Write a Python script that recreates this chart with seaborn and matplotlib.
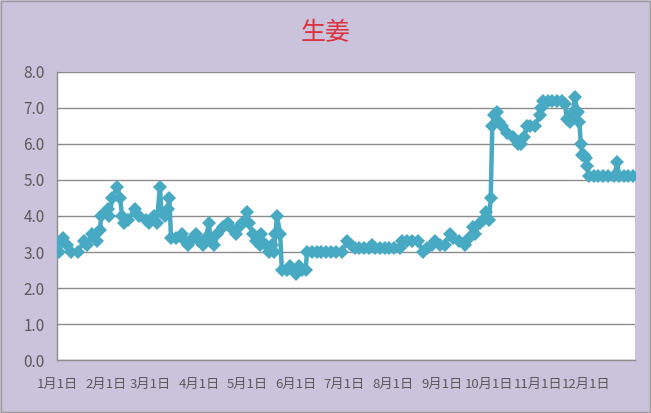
import pandas as pd
import matplotlib
matplotlib.use("Agg")
import matplotlib.pyplot as plt
import seaborn as sns

# price series (year is arbitrary, non-leap)
dates = [
    "01-01", "01-02", "01-05", "01-07", "01-10", "01-14", "01-18", "01-20", "01-23", "01-26",
    "01-28", "01-29", "02-02", "02-03", "02-05", "02-08", "02-10", "02-11", "02-12", "02-15",
    "02-19", "02-22", "02-26", "02-28", "03-03", "03-05", "03-07", "03-08", "03-10", "03-12",
    "03-13", "03-14", "03-17", "03-21", "03-23", "03-25", "03-28", "03-30", "04-01", "04-03",
    "04-05", "04-07", "04-08", "04-10", "04-12", "04-16", "04-19", "04-22", "04-24", "04-26",
    "04-28", "05-01", "05-02", "05-05", "05-07", "05-09", "05-10", "05-13", "05-15", "05-17",
    "05-18", "05-19", "05-20", "05-22", "05-23", "05-26", "05-28", "06-01", "06-03", "06-05",
    "06-07", "06-08", "06-11", "06-14", "06-17", "06-20", "06-23", "06-26", "06-30", "07-03",
    "07-06", "07-08", "07-11", "07-14", "07-17", "07-19", "07-21", "07-24", "07-27", "07-30",
    "08-02", "08-06", "08-07", "08-10", "08-13", "08-17", "08-20", "08-23", "08-26", "08-28",
    "08-31", "09-03", "09-06", "09-08", "09-12", "09-16", "09-18", "09-21", "09-22", "09-25",
    "09-27", "09-29", "10-01", "10-02", "10-03", "10-04", "10-06", "10-07", "10-09", "10-12",
    "10-16", "10-19", "10-21", "10-23", "10-25", "10-27", "10-30", "11-02", "11-03", "11-04",
    "11-07", "11-10", "11-13", "11-16", "11-18", "11-19", "11-21", "11-22", "11-23", "11-24",
    "11-26", "11-27", "11-28", "11-29", "11-30", "12-01", "12-02", "12-03", "12-06", "12-09",
    "12-12", "12-15", "12-19", "12-21", "12-22", "12-25", "12-28", "12-31",
]
prices = [
    3.2, 3.0, 3.4, 3.2, 3.0, 3.0, 3.3, 3.2, 3.5, 3.3,
    3.6, 4.0, 4.2, 4.0, 4.5, 4.8, 4.5, 4.0, 3.8, 3.9,
    4.2, 4.0, 3.9, 3.8, 4.0, 3.8, 4.8, 4.1, 4.0, 4.2,
    4.5, 3.4, 3.4, 3.5, 3.3, 3.2, 3.4, 3.5, 3.3, 3.2,
    3.4, 3.8, 3.3, 3.2, 3.5, 3.7, 3.8, 3.6, 3.5, 3.7,
    3.8, 4.1, 3.8, 3.5, 3.3, 3.2, 3.5, 3.2, 3.0, 3.2,
    3.0, 3.5, 4.0, 3.5, 2.5, 2.5, 2.6, 2.4, 2.6, 2.5,
    2.5, 3.0, 3.0, 3.0, 3.0, 3.0, 3.0, 3.0, 3.0, 3.3,
    3.2, 3.1, 3.1, 3.1, 3.1, 3.2, 3.1, 3.1, 3.1, 3.1,
    3.1, 3.1, 3.3, 3.3, 3.3, 3.3, 3.0, 3.1, 3.2, 3.3,
    3.2, 3.2, 3.5, 3.4, 3.3, 3.2, 3.4, 3.7, 3.5, 3.8,
    3.9, 4.1, 3.9, 4.5, 6.5, 6.8, 6.9, 6.6, 6.5, 6.3,
    6.2, 6.0, 6.0, 6.2, 6.5, 6.5, 6.5, 6.8, 7.0, 7.2,
    7.2, 7.2, 7.2, 7.2, 7.1, 6.7, 6.6, 6.7, 6.9, 7.3,
    6.9, 6.6, 6.0, 5.7, 5.7, 5.6, 5.4, 5.1, 5.1, 5.1,
    5.1, 5.1, 5.1, 5.5, 5.1, 5.1, 5.1, 5.1,
]
month_labels = ["1月1日", "2月1日", "3月1日", "4月1日", "5月1日", "6月1日",
                "7月1日", "8月1日", "9月1日", "10月1日", "11月1日", "12月1日"]
y_ticks = [0, 1, 2, 3, 4, 5, 6, 7, 8]

df = pd.DataFrame({"date": pd.to_datetime(["2017-" + d for d in dates]), "price": prices})

sns.set_theme(style="white")
plt.rcParams["font.family"] = ["Noto Sans CJK SC", "DejaVu Sans"]

bg = "#cbc3dc"
fig = plt.figure(figsize=(6.51, 4.13), dpi=100, facecolor=bg)
ax = fig.add_axes([0.0876, 0.1283, 0.8874, 0.6974])
ax.set_facecolor("white")

sns.lineplot(data=df, x="date", y="price", ax=ax, color="#48a9c3", linewidth=3.2,
             marker="D", markersize=7, markeredgewidth=0, zorder=3)

ax.set_ylim(0, 8)
ax.set_yticks(y_ticks)
ax.set_yticklabels([f"{v:.1f}" for v in y_ticks])
month_starts = pd.date_range("2017-01-01", periods=12, freq="MS")
ax.set_xlim(pd.Timestamp("2017-01-01"), pd.Timestamp("2018-01-01"))
ax.set_xticks(month_starts)
ax.set_xticklabels(month_labels)
ax.set_xticks([pd.Timestamp("2018-01-01")], minor=True)
ax.set_xlabel("")
ax.set_ylabel("")

ax.grid(axis="y", color="#8c8c8c", linewidth=1.0)
ax.set_axisbelow(True)
for side in ["top", "right"]:
    ax.spines[side].set_visible(False)
for side in ["left", "bottom"]:
    ax.spines[side].set_color("#8c8c8c")
    ax.spines[side].set_linewidth(1.0)
ax.tick_params(axis="both", which="both", direction="out", length=4, width=1,
               color="#8c8c8c", labelcolor="#595959")
ax.tick_params(axis="y", pad=5, labelsize=11)
ax.tick_params(axis="x", pad=9, labelsize=9.5)

fig.text(0.5, 0.92, "生姜", ha="center", va="center", color="#d9333f", fontsize=18)

# thin frame around the chart
fig.patches.append(plt.Rectangle((0.002, 0.003), 0.996, 0.994, transform=fig.transFigure,
                                 fill=False, edgecolor="#9a9a9a", linewidth=1))

fig.savefig("out.png", dpi=100, facecolor=bg)
